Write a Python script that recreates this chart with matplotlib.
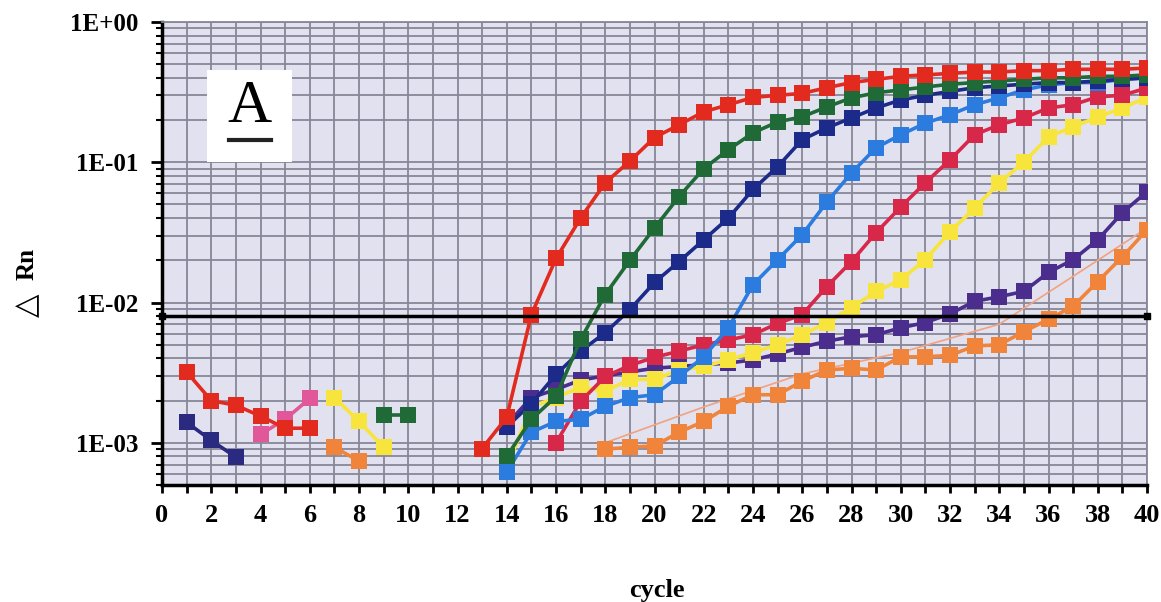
import numpy as np
import matplotlib
matplotlib.use("Agg")
import matplotlib.pyplot as plt
from matplotlib.patches import Rectangle
from matplotlib.ticker import FixedLocator, FixedFormatter, NullFormatter, MultipleLocator

# delta Rn per cycle; each list starts at the given cycle
red_early = [3.2e-3, 2.0e-3, 1.85e-3, 1.55e-3, 1.27e-3, 1.27e-3]            # 1-6
red_main = [9.1e-4, 1.52e-3, 8.2e-3, 0.0206, 0.040, 0.0715, 0.102, 0.150, 0.185,
            0.229, 0.257, 0.29, 0.30, 0.31, 0.34, 0.37, 0.39, 0.41, 0.42, 0.43,
            0.44, 0.44, 0.45, 0.45, 0.46, 0.46, 0.46, 0.47]                 # 13-40
green_early = [1.57e-3, 1.57e-3]                                            # 9-10
green_main = [8.0e-4, 1.47e-3, 2.14e-3, 5.45e-3, 0.0114, 0.020, 0.034, 0.057,
              0.09, 0.123, 0.162, 0.194, 0.211, 0.248, 0.288, 0.313, 0.328,
              0.344, 0.36, 0.37, 0.38, 0.39, 0.40, 0.40, 0.41, 0.41, 0.42]  # 14-40
navy_early = [1.40e-3, 1.04e-3, 7.9e-4]                                     # 1-3
navy_main = [1.3e-3, 1.9e-3, 3.07e-3, 4.5e-3, 6.1e-3, 8.9e-3, 0.0139, 0.0196,
             0.028, 0.040, 0.064, 0.093, 0.145, 0.176, 0.207, 0.244, 0.278,
             0.30, 0.32, 0.34, 0.35, 0.36, 0.37, 0.37, 0.38, 0.39, 0.40]    # 14-40
blue_main = [6.2e-4, 1.19e-3, 1.42e-3, 1.47e-3, 1.82e-3, 2.1e-3, 2.2e-3, 2.97e-3,
             4.1e-3, 6.6e-3, 0.0134, 0.0202, 0.0305, 0.052, 0.084, 0.127, 0.157,
             0.19, 0.218, 0.257, 0.288, 0.328, 0.356, 0.37, 0.37, 0.39, 0.40]  # 14-40
crimson_main = [1.0e-3, 1.97e-3, 2.97e-3, 3.56e-3, 4.07e-3, 4.5e-3, 5.0e-3, 5.4e-3,
                5.9e-3, 7.1e-3, 8.2e-3, 0.013, 0.0196, 0.0315, 0.048, 0.0715,
                0.104, 0.157, 0.185, 0.207, 0.244, 0.257, 0.293, 0.30, 0.339]  # 16-40
pink_early = [1.15e-3, 1.47e-3, 2.07e-3]                                    # 4-6
yellow_early = [2.1e-3, 1.42e-3, 9.3e-4]                                    # 7-9
yellow_main = [6.7e-4, 1.8e-3, 2.1e-3, 2.5e-3, 2.33e-3, 2.83e-3, 2.83e-3, 3.3e-3,
               3.5e-3, 3.9e-3, 4.4e-3, 5.0e-3, 5.9e-3, 7.2e-3, 9.2e-3, 0.012,
               0.0145, 0.0202, 0.032, 0.047, 0.0715, 0.10, 0.152, 0.179, 0.21,
               0.244, 0.29]                                                 # 14-40
purple_main = [1.35e-3, 2.1e-3, 2.4e-3, 2.8e-3, 3.0e-3, 3.2e-3, 3.4e-3, 3.5e-3,
               3.6e-3, 3.7e-3, 3.9e-3, 4.3e-3, 4.8e-3, 5.3e-3, 5.7e-3, 5.9e-3,
               6.6e-3, 7.2e-3, 8.3e-3, 0.0102, 0.011, 0.012, 0.0164, 0.0202,
               0.028, 0.0437, 0.0617]                                       # 14-40
orange_early = [9.3e-4, 7.4e-4]                                             # 7-8
orange_main = [9.0e-4, 9.3e-4, 9.5e-4, 1.19e-3, 1.42e-3, 1.82e-3, 2.2e-3, 2.2e-3,
               2.75e-3, 3.3e-3, 3.4e-3, 3.3e-3, 4.1e-3, 4.1e-3, 4.2e-3, 4.9e-3,
               5.0e-3, 6.2e-3, 7.6e-3, 9.4e-3, 0.0141, 0.0212, 0.033]       # 18-40
faint_cycles = [18, 22, 26, 30, 34, 38, 40]
faint_vals = [1.0e-3, 1.8e-3, 3.1e-3, 4.4e-3, 7.0e-3, 0.020, 0.034]

threshold = 0.008
ytick_vals = [1e-3, 1e-2, 1e-1, 1]
ytick_text = ["1E-03", "1E-02", "1E-01", "1E+00"]

plt.rcParams["font.family"] = ["Liberation Serif", "DejaVu Serif", "DejaVu Sans"]
plt.rcParams["font.weight"] = "bold"

fig = plt.figure(figsize=(11.61, 6.02), dpi=100)
ax = fig.add_axes([162/1161, 1-485/602, 985/1161, 463/602])
ax.set_facecolor("#e2e1f0")

def draw(start, vals, color):
    x = np.arange(start, start + len(vals))
    ax.plot(x, vals, color=color, lw=2.6, marker="s", ms=11.5, mew=0, zorder=4)

ax.plot(faint_cycles, faint_vals, color="#f2a27e", lw=1.2, zorder=3)
draw(7, orange_early, "#f0843a")
draw(18, orange_main, "#f0843a")
draw(14, purple_main, "#4a2d8c")
draw(7, yellow_early, "#f7e43c")
draw(14, yellow_main, "#f7e43c")
draw(4, pink_early, "#e2579a")
draw(16, crimson_main, "#d8284a")
draw(14, blue_main, "#2c7ce0")
draw(1, navy_early, "#2a2a80")
draw(14, navy_main, "#1c2a8a")
draw(9, green_early, "#1f6a36")
draw(14, green_main, "#1f6a36")
draw(1, red_early, "#e32a1e")
draw(13, red_main, "#e32a1e")

ax.plot([0, 40], [threshold, threshold], color="black", lw=2.5, marker="s",
        ms=5, zorder=5, clip_on=False)

ax.set_yscale("log")
ax.set_xlim(0, 40)
ax.set_ylim(5e-4, 1)

ax.xaxis.set_major_locator(MultipleLocator(2))
ax.xaxis.set_minor_locator(MultipleLocator(1))
ax.yaxis.set_major_locator(FixedLocator(ytick_vals))
ax.yaxis.set_major_formatter(FixedFormatter(ytick_text))
ax.yaxis.set_minor_formatter(NullFormatter())

ax.grid(True, which="both", axis="both", color="#878797", lw=1.3, zorder=0)
ax.set_axisbelow(True)

ax.tick_params(axis="x", which="both", direction="out", length=6, width=2,
               labelsize=19, pad=8)
ax.tick_params(axis="y", which="major", direction="out", length=8, width=2,
               labelsize=18, pad=9)
ax.tick_params(axis="y", which="minor", direction="out", length=4, width=1.5)

for s in ["left", "bottom"]:
    ax.spines[s].set_linewidth(2.5)
    ax.spines[s].set_color("black")
for s in ["top", "right"]:
    ax.spines[s].set_linewidth(1.3)
    ax.spines[s].set_color("#878797")

# panel letter box
ax.add_patch(Rectangle((0.0457, 0.698), 0.0863, 0.198, transform=ax.transAxes,
                       facecolor="white", edgecolor="none", zorder=6))
ax.text(0.0893, 0.815, "A", transform=ax.transAxes, ha="center", va="center",
        fontsize=44, fontweight="normal", zorder=7)
ax.plot([0.068, 0.111], [0.745, 0.745], transform=ax.transAxes, color="#222222",
        lw=3, zorder=7)

fig.text(27/1161, 1-305/602, "\u25b3", rotation=90, ha="center", va="center",
         fontsize=22, family="DejaVu Sans")
fig.text(27/1161, 1-264/602, "Rn", rotation=90, ha="center", va="center",
         fontsize=18, fontweight="bold")
fig.text(657/1161, 1-590/602, "cycle", ha="center", va="center",
         fontsize=19, fontweight="bold")

fig.savefig("out.png", dpi=100)
